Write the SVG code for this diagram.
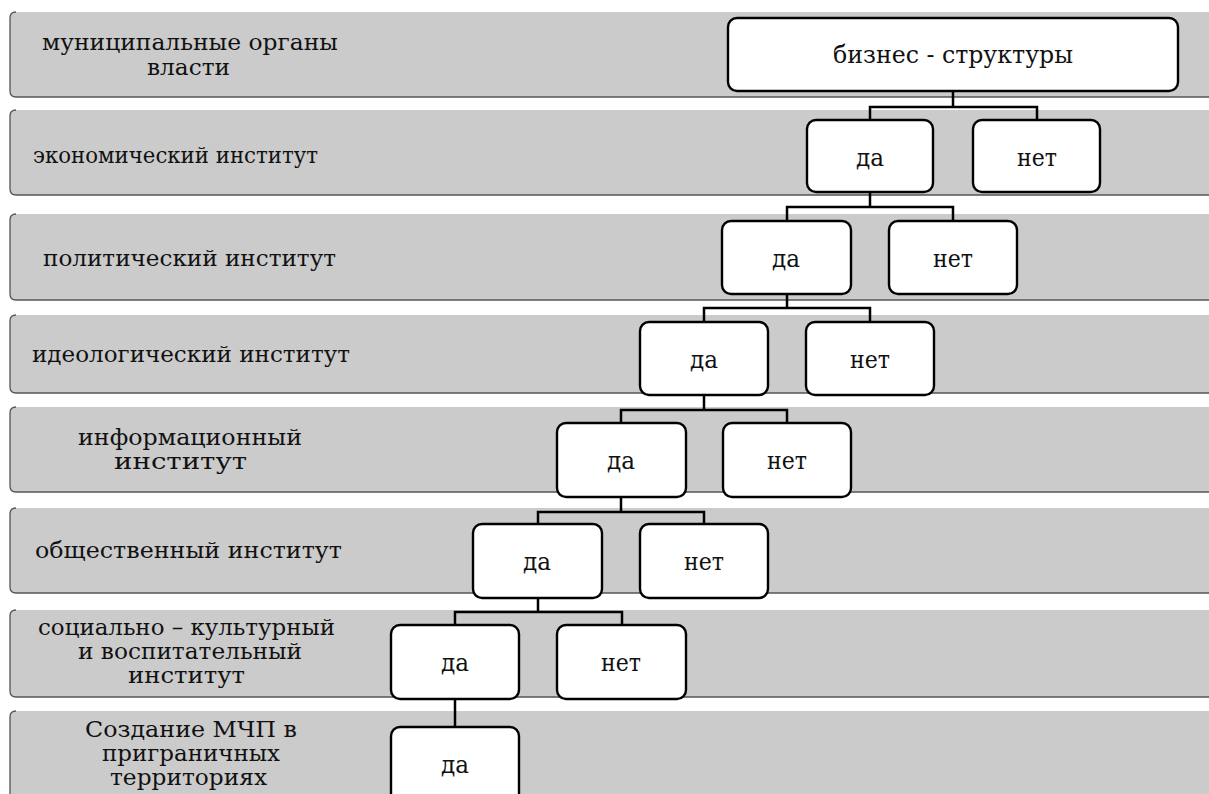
<svg xmlns="http://www.w3.org/2000/svg" width="1209" height="794" viewBox="0 0 1209 794">
<style>
.band{fill:#cbcbcb;stroke:none}
.bedge{fill:none;stroke:#555;stroke-width:1.3}
.box{fill:#fff;stroke:#000;stroke-width:2.4}
.lbl{font-family:"DejaVu Serif","Liberation Serif",serif;font-size:23px;fill:#111}
.bt{font-family:"DejaVu Serif","Liberation Serif",serif;font-size:25px;fill:#111}
.con{fill:none;stroke:#000;stroke-width:2.5}
</style>
<rect width="1209" height="794" fill="#fff"/>
<g id="bands">
<g id="band1"><rect class="band" x="10" y="12" width="1210" height="85" rx="6"/><path class="bedge" d="M1209 97 H16 Q10 97 10 91 V18 Q10 12 16 12"/></g>
<g id="band2"><rect class="band" x="10" y="110" width="1210" height="85" rx="6"/><path class="bedge" d="M1209 195 H16 Q10 195 10 189 V116 Q10 110 16 110"/></g>
<g id="band3"><rect class="band" x="10" y="214" width="1210" height="86" rx="6"/><path class="bedge" d="M1209 300 H16 Q10 300 10 294 V220 Q10 214 16 214"/></g>
<g id="band4"><rect class="band" x="10" y="315" width="1210" height="78" rx="6"/><path class="bedge" d="M1209 393 H16 Q10 393 10 387 V321 Q10 315 16 315"/></g>
<g id="band5"><rect class="band" x="10" y="407" width="1210" height="85" rx="6"/><path class="bedge" d="M1209 492 H16 Q10 492 10 486 V413 Q10 407 16 407"/></g>
<g id="band6"><rect class="band" x="10" y="508" width="1210" height="85" rx="6"/><path class="bedge" d="M1209 593 H16 Q10 593 10 587 V514 Q10 508 16 508"/></g>
<g id="band7"><rect class="band" x="10" y="610" width="1210" height="87" rx="6"/><path class="bedge" d="M1209 697 H16 Q10 697 10 691 V616 Q10 610 16 610"/></g>
<g id="band8"><rect class="band" x="10" y="711" width="1210" height="95" rx="6"/><path class="bedge" d="M10 800 V717 Q10 711 16 711"/></g>
</g>
<g id="labels">
<g id="lbl1"><text class="lbl" x="42" y="50" textLength="296" lengthAdjust="spacingAndGlyphs">муниципальные  органы</text><text class="lbl" x="147" y="75" textLength="83" lengthAdjust="spacingAndGlyphs">власти</text></g>
<g id="lbl2"><text class="lbl" x="33" y="163" textLength="285" lengthAdjust="spacingAndGlyphs">экономический институт</text></g>
<g id="lbl3"><text class="lbl" x="43" y="266" textLength="293" lengthAdjust="spacingAndGlyphs">политический институт</text></g>
<g id="lbl4"><text class="lbl" x="32" y="362" textLength="318" lengthAdjust="spacingAndGlyphs">идеологический институт</text></g>
<g id="lbl5"><text class="lbl" x="78" y="445" textLength="224" lengthAdjust="spacingAndGlyphs">информационный</text><text class="lbl" x="114" y="469" textLength="133" lengthAdjust="spacingAndGlyphs">институт</text></g>
<g id="lbl6"><text class="lbl" x="35" y="558" textLength="307" lengthAdjust="spacingAndGlyphs">общественный институт</text></g>
<g id="lbl7"><text class="lbl" x="38" y="635" textLength="297" lengthAdjust="spacingAndGlyphs">социально – культурный</text><text class="lbl" x="78" y="659" textLength="224" lengthAdjust="spacingAndGlyphs">и воспитательный</text><text class="lbl" x="128" y="683" textLength="117" lengthAdjust="spacingAndGlyphs">институт</text></g>
<g id="lbl8"><text class="lbl" x="85" y="737" textLength="212" lengthAdjust="spacingAndGlyphs">Создание МЧП  в</text><text class="lbl" x="102" y="761" textLength="178" lengthAdjust="spacingAndGlyphs">приграничных</text><text class="lbl" x="110" y="785" textLength="157" lengthAdjust="spacingAndGlyphs">территориях</text></g>
</g>
<g id="connectors">
<path class="con" d="M953 91 V107 M870 120 V107 H1037 V120"/>
<path class="con" d="M870 192 V207 M787 221 V207 H953 V221"/>
<path class="con" d="M787 294 V308 M704 322 V308 H870 V322"/>
<path class="con" d="M704 395 V410 M621 423 V410 H787 V423"/>
<path class="con" d="M621 497 V512 M538 524 V512 H704 V524"/>
<path class="con" d="M538 598 V612 M455 625 V612 H622 V625"/>
<path class="con" d="M455 699 V727"/>
</g>
<g id="n0"><rect class="box" x="728" y="18" width="450" height="73" rx="9"/><text class="bt" x="833" y="63" textLength="240" lengthAdjust="spacingAndGlyphs">бизнес - структуры</text></g>
<g id="n2da"><rect class="box" x="807" y="120" width="126" height="72" rx="9"/><text class="bt" x="856" y="166" textLength="28" lengthAdjust="spacingAndGlyphs">да</text></g>
<g id="n2net"><rect class="box" x="973" y="120" width="127" height="72" rx="9"/><text class="bt" x="1017" y="166" textLength="40" lengthAdjust="spacingAndGlyphs">нет</text></g>
<g id="n3da"><rect class="box" x="722" y="221" width="129" height="73" rx="9"/><text class="bt" x="772" y="267" textLength="28" lengthAdjust="spacingAndGlyphs">да</text></g>
<g id="n3net"><rect class="box" x="889" y="221" width="128" height="73" rx="9"/><text class="bt" x="933" y="267" textLength="40" lengthAdjust="spacingAndGlyphs">нет</text></g>
<g id="n4da"><rect class="box" x="640" y="322" width="128" height="73" rx="9"/><text class="bt" x="690" y="368" textLength="28" lengthAdjust="spacingAndGlyphs">да</text></g>
<g id="n4net"><rect class="box" x="806" y="322" width="128" height="73" rx="9"/><text class="bt" x="850" y="368" textLength="40" lengthAdjust="spacingAndGlyphs">нет</text></g>
<g id="n5da"><rect class="box" x="557" y="423" width="129" height="74" rx="9"/><text class="bt" x="607" y="469" textLength="28" lengthAdjust="spacingAndGlyphs">да</text></g>
<g id="n5net"><rect class="box" x="723" y="423" width="128" height="74" rx="9"/><text class="bt" x="767" y="469" textLength="40" lengthAdjust="spacingAndGlyphs">нет</text></g>
<g id="n6da"><rect class="box" x="473" y="524" width="129" height="74" rx="9"/><text class="bt" x="523" y="570" textLength="28" lengthAdjust="spacingAndGlyphs">да</text></g>
<g id="n6net"><rect class="box" x="640" y="524" width="128" height="74" rx="9"/><text class="bt" x="684" y="570" textLength="40" lengthAdjust="spacingAndGlyphs">нет</text></g>
<g id="n7da"><rect class="box" x="391" y="625" width="128" height="74" rx="9"/><text class="bt" x="441" y="671" textLength="28" lengthAdjust="spacingAndGlyphs">да</text></g>
<g id="n7net"><rect class="box" x="557" y="625" width="129" height="74" rx="9"/><text class="bt" x="601" y="671" textLength="40" lengthAdjust="spacingAndGlyphs">нет</text></g>
<g id="n8da"><rect class="box" x="391" y="727" width="128" height="80" rx="9"/><text class="bt" x="441" y="773" textLength="28" lengthAdjust="spacingAndGlyphs">да</text></g>
</svg>
